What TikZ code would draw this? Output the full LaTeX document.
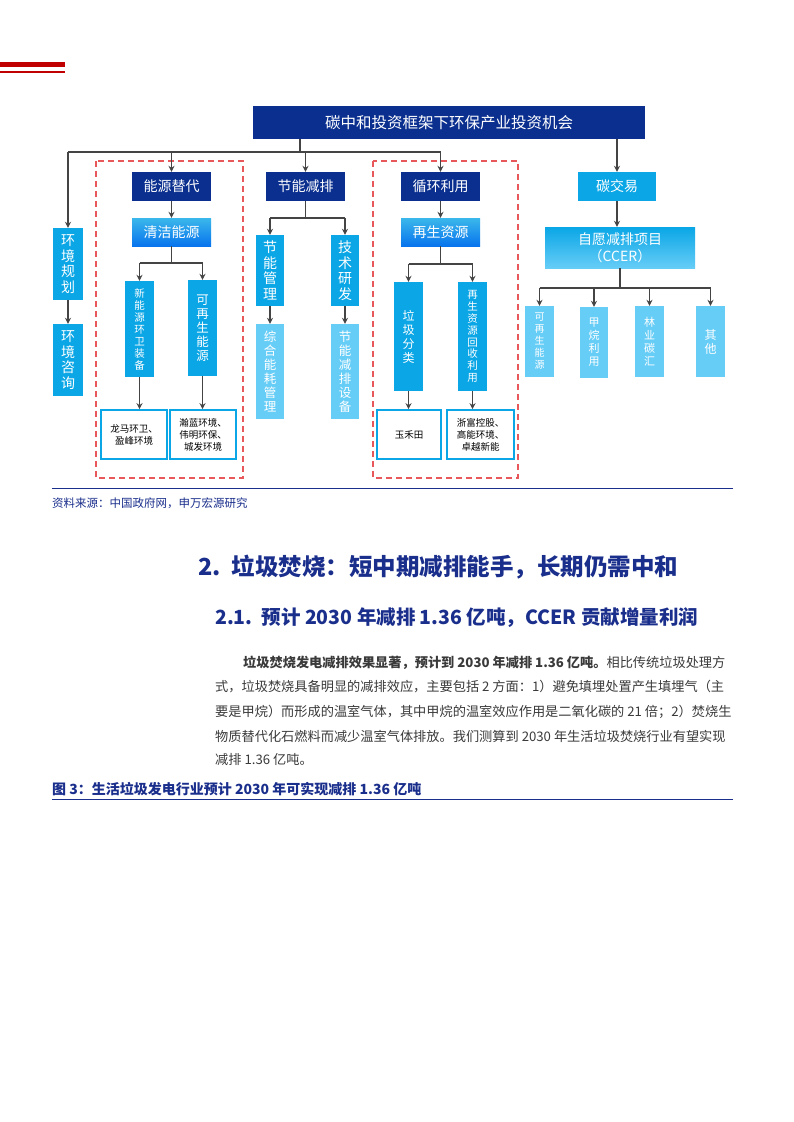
\documentclass[tikz,border=0pt]{standalone}
\usepackage{fontspec}
\setmainfont{Noto Sans CJK SC}
\usetikzlibrary{arrows.meta}
\definecolor{dkb}{HTML}{0A2F8F}
\definecolor{cy}{HTML}{0AA6E6}
\definecolor{lc}{HTML}{66CDF7}
\definecolor{ln}{HTML}{444444}
\definecolor{rd}{HTML}{C00000}
\definecolor{dred}{HTML}{E8585A}
\definecolor{hd}{HTML}{1A2E8C}
\definecolor{tx}{HTML}{3A3A3A}
\newcommand{\bx}[7]{\pgfmathsetmacro\bw{#4-#2}\pgfmathsetmacro\bh{#5-#3}%
 \node[#6,minimum width=\bw pt,minimum height=\bh pt,inner sep=0pt] (#1) at ({(#2+#4)/2},{(#3+#5)/2}) {#7};}
\newcommand{\fs}[2]{\fontsize{#1pt}{#2pt}\selectfont}
\begin{document}
\begin{tikzpicture}[x=1pt,y=-1pt,
 dk/.style={fill=dkb,text=white,font=\fs{14}{16}},
 cyb/.style={fill=cy,text=white,align=center},
 lcb/.style={fill=lc,text=white,align=center},
 wb/.style={draw=cy,line width=1.6pt,fill=white,text=black,align=center,font=\fs{9.5}{12}},
 lnk/.style={draw=ln,line width=1.5pt},
 arr/.style={lnk,-{Stealth[length=6pt,width=6pt]}},
 dsh/.style={draw=dred,line width=1.5pt,dash pattern=on 6pt off 4pt}]
\path[fill=white,use as bounding box] (0,0) rectangle (793,1122);
\fill[rd] (0,62) rectangle (65,67);
\fill[rd] (0,71) rectangle (65,73);
% dashed groups
\draw[dsh] (96,161) rectangle (243,478);
\draw[dsh] (373,161) rectangle (518,478);
% nodes
\bx{t}{253}{106}{645}{139}{dk,font=\fs{15.5}{16}}{碳中和投资框架下环保产业投资机会}
\bx{nyt}{132}{172}{211}{201}{dk}{能源替代}
\bx{jnj}{266}{172}{345}{201}{dk}{节能减排}
\bx{xhl}{401}{172}{480}{201}{dk}{循环利用}
\bx{tjy}{578}{172}{656}{201}{cyb,font=\fs{14}{16}}{碳交易}
\bx{qjn}{132}{218}{211}{246}{top color=cy!80!white,bottom color=cy!70!blue,text=white,font=\fs{14}{16}}{清洁能源}
\bx{zsz}{401}{218}{480}{246}{top color=cy!80!white,bottom color=cy!70!blue,text=white,font=\fs{14}{16}}{再生资源}
\bx{hjg}{53}{228}{83}{300}{cyb,font=\fs{14}{15.5}}{环\\境\\规\\划}
\bx{hjz}{53}{324}{83}{396}{cyb,font=\fs{14}{15.5}}{环\\境\\咨\\询}
\bx{xny}{125}{281}{154}{377}{cyb,font=\fs{10.5}{12}}{新\\能\\源\\环\\卫\\装\\备}
\bx{kzs}{188}{280}{217}{376}{cyb,font=\fs{12.5}{14}}{可\\再\\生\\能\\源}
\bx{jgl}{256}{235}{284}{306}{cyb,font=\fs{14}{15.5}}{节\\能\\管\\理}
\bx{jsy}{331}{235}{359}{306}{cyb,font=\fs{14}{15.5}}{技\\术\\研\\发}
\bx{zhn}{256}{324}{284}{419}{lcb,font=\fs{12.5}{14}}{综\\合\\能\\耗\\管\\理}
\bx{jns}{331}{324}{359}{419}{lcb,font=\fs{12.5}{14}}{节\\能\\减\\排\\设\\备}
\bx{ljf}{394}{282}{423}{391}{cyb,font=\fs{12}{14}}{垃\\圾\\分\\类}
\bx{zsh}{458}{282}{487}{391}{cyb,font=\fs{10.5}{11.8}}{再\\生\\资\\源\\回\\收\\利\\用}
\bx{lm}{101}{410}{167}{459}{wb}{龙马环卫、\\盈峰环境}
\bx{hl}{170}{410}{236}{459}{wb}{瀚蓝环境、\\伟明环保、\\城发环境}
\bx{yht}{377}{410}{441}{459}{wb}{玉禾田}
\bx{zf}{447}{410}{514}{459}{wb}{浙富控股、\\高能环境、\\卓越新能}
\bx{ccer}{545}{227}{695}{268}{top color=cy,bottom color=lc,text=white,align=center,font=\fs{14}{17}}{自愿减排项目\\（CCER）}
\bx{c1}{525}{306}{554}{377}{lcb,font=\fs{10}{12}}{可\\再\\生\\能\\源}
\bx{c2}{580}{307}{608}{378}{lcb,font=\fs{11}{13}}{甲\\烷\\利\\用}
\bx{c3}{635}{306}{664}{377}{lcb,font=\fs{11}{13}}{林\\业\\碳\\汇}
\bx{c4}{696}{306}{725}{377}{lcb,font=\fs{12}{14}}{其\\他}
% connectors
\coordinate (h0) at (300,152);
\draw[lnk] (t.south -| h0) -- (h0);
\draw[lnk] (h0 -| hjg.north) -- (h0 -| xhl.north);
\foreach \n in {hjg,nyt,jnj,xhl} \draw[arr] (h0 -| \n.north) -- (\n.north);
\draw[arr] (t.south -| tjy.north) -- (tjy.north);
\draw[arr] (hjg) -- (hjz);
\draw[arr] (nyt) -- (qjn);
\draw[arr] (xhl) -- (zsz);
\draw[arr] (tjy) -- (tjy.south |- ccer.north);
\coordinate (h1) at (0,263);
\draw[lnk] (qjn) -- (qjn.south |- h1);
\draw[lnk] (h1 -| xny.north) -- (h1 -| kzs.north);
\draw[arr] (h1 -| xny.north) -- (xny.north);
\draw[arr] (h1 -| kzs.north) -- (kzs.north);
\draw[arr] (xny.south) -- (xny.south |- lm.north);
\draw[arr] (kzs.south) -- (kzs.south |- hl.north);
\coordinate (h2) at (0,218);
\draw[lnk] (jnj) -- (jnj.south |- h2);
\draw[lnk] (h2 -| jgl.north) -- (h2 -| jsy.north);
\draw[arr] (h2 -| jgl.north) -- (jgl.north);
\draw[arr] (h2 -| jsy.north) -- (jsy.north);
\draw[arr] (jgl) -- (zhn);
\draw[arr] (jsy) -- (jns);
\coordinate (h3) at (0,264);
\draw[lnk] (zsz) -- (zsz.south |- h3);
\draw[lnk] (h3 -| ljf.north) -- (h3 -| zsh.north);
\draw[arr] (h3 -| ljf.north) -- (ljf.north);
\draw[arr] (h3 -| zsh.north) -- (zsh.north);
\draw[arr] (ljf.south) -- (ljf.south |- yht.north);
\draw[arr] (zsh.south) -- (zsh.south |- zf.north);
\coordinate (h4) at (0,288);
\draw[lnk] (ccer) -- (ccer.south |- h4);
\draw[lnk] (h4 -| c1.north) -- (h4 -| c4.north);
\foreach \n in {c1,c2,c3,c4} \draw[arr] (h4 -| \n.north) -- (\n.north);
% text part
\draw[hd,line width=0.8pt] (52,488) -- (733,488);
\node[anchor=west,inner sep=0pt,text=hd,font=\fs{11.5}{12}] (src) at (52,503) {资料来源：中国政府网，申万宏源研究};
\node[anchor=west,inner sep=0pt,text=hd,font=\bfseries\fs{23.5}{24}] (h2t) at (198,567) {2.\ \ 垃圾焚烧：短中期减排能手，长期仍需中和};
\node[anchor=west,inner sep=0pt,text=hd,font=\bfseries\fs{19.5}{20}] (h21) at (215,618) {2.1.\ \ 预计 2030 年减排 1.36 亿吨，CCER 贡献增量利润};
\begin{scope}[every node/.style={anchor=west,inner sep=0pt,text=tx,font=\fs{13.2}{14}}]
\node (p1) at (243,663) {\textbf{垃圾焚烧发电减排效果显著，预计到 2030 年减排 1.36 亿吨。}相比传统垃圾处理方};
\node (p2) at (215,687) {式，垃圾焚烧具备明显的减排效应，主要包括 2 方面：1）避免填埋处置产生填埋气（主};
\node (p3) at (215,712) {要是甲烷）而形成的温室气体，其中甲烷的温室效应作用是二氧化碳的 21 倍；2）焚烧生};
\node (p4) at (215,736) {物质替代化石燃料而减少温室气体排放。我们测算到 2030 年生活垃圾焚烧行业有望实现};
\node (p5) at (215,760) {减排 1.36 亿吨。};
\end{scope}
\node[anchor=west,inner sep=0pt,text=hd,font=\bfseries\fs{14}{14}] (cap) at (52,789) {图 3：生活垃圾发电行业预计 2030 年可实现减排 1.36 亿吨};
\draw[hd,line width=0.8pt] (52,799) -- (733,799);
\end{tikzpicture}
\end{document}
